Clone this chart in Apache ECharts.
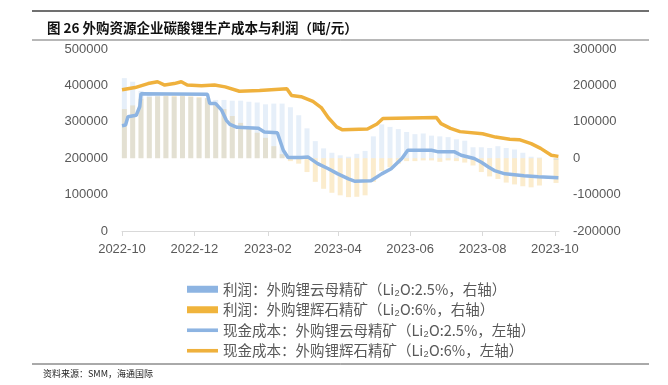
<!DOCTYPE html>
<html><head><meta charset="utf-8">
<script src="https://cdn.jsdelivr.net/npm/echarts@6/dist/echarts.min.js"></script>
<style>html,body{margin:0;padding:0;background:#fff}#c{width:668px;height:385px}</style>
</head><body><div id="c"></div>
<script>
// Weekly profit blocks (right axis)
const weekDates = ['2022-10-03','2022-10-10','2022-10-17','2022-10-24','2022-10-31','2022-11-07','2022-11-14','2022-11-21','2022-11-28','2022-12-05','2022-12-12','2022-12-19','2022-12-26','2023-01-02','2023-01-09','2023-01-16','2023-01-23','2023-01-30','2023-02-06','2023-02-13','2023-02-20','2023-02-27','2023-03-06','2023-03-13','2023-03-20','2023-03-27','2023-04-03','2023-04-10','2023-04-17','2023-04-24','2023-05-01','2023-05-08','2023-05-15','2023-05-22','2023-05-29','2023-06-05','2023-06-12','2023-06-19','2023-06-26','2023-07-03','2023-07-10','2023-07-17','2023-07-24','2023-07-31','2023-08-07','2023-08-14','2023-08-21','2023-08-28','2023-09-04','2023-09-11','2023-09-18','2023-09-25','2023-10-02'];
const profitMica = [220000,210000,185000,178000,172000,170000,168000,170000,168000,165000,165000,160000,160000,158000,158000,155000,153000,148000,150000,150000,140000,118000,82000,47000,27000,15000,8000,4000,12000,20000,60000,93000,86000,80000,72000,66000,68000,62000,60000,58000,52000,48000,30000,30000,28000,33000,28000,24000,15000,4000,2000,null,-5000];
const profitSpod = [135000,145000,163000,168000,170000,172000,172000,172000,170000,168000,165000,150000,135000,116000,97000,84000,70000,56000,33000,11000,-8000,-15000,-38000,-65000,-84000,-95000,-102000,-107000,-106000,-102000,-65000,-35000,-25000,-15000,-8000,-8000,-6000,-6000,-10000,-6000,-8000,-12000,-20000,-38000,-50000,-57000,-67000,-72000,-77000,-80000,-75000,null,-68000];

// Cash cost lines (left axis), [date, value]
const costMica = [['2022-10-01',289000],['2022-10-04',291000],['2022-10-06',314000],['2022-10-13',318000],['2022-10-16',342000],['2022-10-17',377000],['2022-12-12',376000],['2022-12-14',350000],['2022-12-19',350000],['2022-12-24',332000],['2022-12-28',304000],['2022-12-31',293000],['2023-01-06',285000],['2023-01-24',282000],['2023-01-29',272000],['2023-02-09',270000],['2023-02-14',222000],['2023-02-18',202000],['2023-03-01',202000],['2023-03-07',203000],['2023-03-15',185000],['2023-03-24',171000],['2023-04-01',157000],['2023-04-10',143000],['2023-04-15',137000],['2023-04-29',138000],['2023-05-08',157000],['2023-05-16',171000],['2023-05-25',199000],['2023-05-30',222000],['2023-06-19',222000],['2023-06-24',218000],['2023-07-08',218000],['2023-07-14',208000],['2023-07-25',199000],['2023-07-31',189000],['2023-08-06',176000],['2023-08-11',166000],['2023-08-20',157000],['2023-09-05',152000],['2023-09-17',149000],['2023-10-04',146000]];
const costSpod = [['2022-10-01',388000],['2022-10-12',394000],['2022-10-23',405000],['2022-10-31',410000],['2022-11-06',401000],['2022-11-14',405000],['2022-11-20',410000],['2022-11-25',401000],['2022-12-07',399000],['2022-12-18',401000],['2022-12-27',396000],['2023-01-08',384000],['2023-01-25',386000],['2023-02-17',391000],['2023-02-21',372000],['2023-03-01',369000],['2023-03-11',356000],['2023-03-18',339000],['2023-03-24',311000],['2023-03-31',286000],['2023-04-05',278000],['2023-04-26',280000],['2023-05-04',294000],['2023-05-09',309000],['2023-06-23',312000],['2023-06-27',295000],['2023-07-05',282000],['2023-07-13',273000],['2023-08-01',267000],['2023-08-12',258000],['2023-08-24',252000],['2023-09-01',251000],['2023-09-11',240000],['2023-09-19',227000],['2023-09-28',208000],['2023-10-04',205000]];

const xTickDates = ['2022-10-01','2022-12-01','2023-02-01','2023-04-01','2023-06-01','2023-08-01','2023-10-01'];
const seriesNames = ['利润：外购锂云母精矿（Li₂O:2.5%，右轴）','利润：外购锂辉石精矿（Li₂O:6%，右轴）','现金成本：外购锂云母精矿（Li₂O:2.5%，左轴）','现金成本：外购锂辉石精矿（Li₂O:6%，左轴）'];

function ts(s){const p=s.split('-');return new Date(+p[0],+p[1]-1,+p[2]).getTime();}
function pad(n){return n<10?'0'+n:''+n;}
const blue='#8db4e2', orange='#efb13d';
const numFont="'Liberation Sans', Arial, sans-serif";
const cjkFont="'Noto Sans CJK SC', sans-serif";
const xTicks = xTickDates.map(ts);
const plain = v => String(v);

const chart = echarts.init(document.getElementById('c'), null, {renderer:'canvas'});
chart.setOption({
  animation:false,
  backgroundColor:'#fff',
  title:{text:'图 26 外购资源企业碳酸锂生产成本与利润（吨/元）',left:42,top:16,textStyle:{fontSize:13.5,fontWeight:'bold',color:'#111',fontFamily:cjkFont}},
  grid:{left:122,right:109,top:49,bottom:154,containLabel:false},
  legend:{orient:'vertical',left:182,top:277,itemWidth:31,itemHeight:7,itemGap:6,
    textStyle:{fontSize:14.5,color:'#595959',fontFamily:cjkFont,lineHeight:14},
    data:[
      {name:seriesNames[0],icon:'rect',itemStyle:{color:blue,opacity:1}},
      {name:seriesNames[1],icon:'rect',itemStyle:{color:'#f0b43c',opacity:1}},
      {name:seriesNames[2],icon:'path://M0,0L30,0L30,3.5L0,3.5Z',itemStyle:{color:blue}},
      {name:seriesNames[3],icon:'path://M0,0L30,0L30,3.5L0,3.5Z',itemStyle:{color:orange}}
    ]},
  xAxis:{type:'value',min:ts('2022-10-01'),max:ts('2023-10-04')+12*3600*1000,
    axisLine:{lineStyle:{color:'#d9d9d9',width:1}},
    axisTick:{show:true,length:5,lineStyle:{color:'#d9d9d9'},customValues:xTicks},
    axisLabel:{customValues:xTicks,margin:12,color:'#595959',fontSize:13,fontFamily:numFont,
      formatter:function(v){const d=new Date(v);return d.getFullYear()+'-'+pad(d.getMonth()+1);}},
    splitLine:{show:false}},
  yAxis:[
    {type:'value',min:0,max:500000,interval:100000,axisLine:{show:false},axisTick:{show:false},splitLine:{show:false},
      axisLabel:{margin:14,color:'#595959',fontSize:13,fontFamily:numFont,formatter:plain}},
    {type:'value',min:-200000,max:300000,interval:100000,position:'right',axisLine:{show:false},axisTick:{show:false},splitLine:{show:false},
      axisLabel:{margin:14,color:'#595959',fontSize:13,fontFamily:numFont,formatter:plain}}
  ],
  series:[
    {type:'bar',name:seriesNames[1],yAxisIndex:1,barWidth:5,barGap:'-100%',z:1,
      itemStyle:{color:'rgba(240,180,60,0.26)'},
      data:weekDates.map((d,i)=>[ts(d),profitSpod[i]===null?'-':profitSpod[i]])},
    {type:'bar',name:seriesNames[0],yAxisIndex:1,barWidth:5,barGap:'-100%',z:1,
      itemStyle:{color:'rgba(141,180,226,0.22)'},
      data:weekDates.map((d,i)=>[ts(d),profitMica[i]===null?'-':profitMica[i]])},
    {type:'line',name:seriesNames[2],yAxisIndex:0,showSymbol:false,symbol:'none',z:3,
      lineStyle:{width:3.5,color:blue},itemStyle:{color:blue},
      data:costMica.map(p=>[ts(p[0]),p[1]])},
    {type:'line',name:seriesNames[3],yAxisIndex:0,showSymbol:false,symbol:'none',z:4,
      lineStyle:{width:3.5,color:orange},itemStyle:{color:orange},
      data:costSpod.map(p=>[ts(p[0]),p[1]])}
  ],
  graphic:[
    {type:'line',shape:{x1:32,y1:11,x2:649,y2:11},style:{stroke:'#404040',lineWidth:1.5}},
    {type:'line',shape:{x1:32,y1:40,x2:649,y2:40},style:{stroke:'#707070',lineWidth:1}},
    {type:'line',shape:{x1:32,y1:364,x2:649,y2:364},style:{stroke:'#555',lineWidth:1}},
    {type:'text',left:43,top:369,style:{text:'资料来源：SMM，海通国际',fontSize:9,fill:'#222',fontFamily:cjkFont}}
  ]
});
</script></body></html>
